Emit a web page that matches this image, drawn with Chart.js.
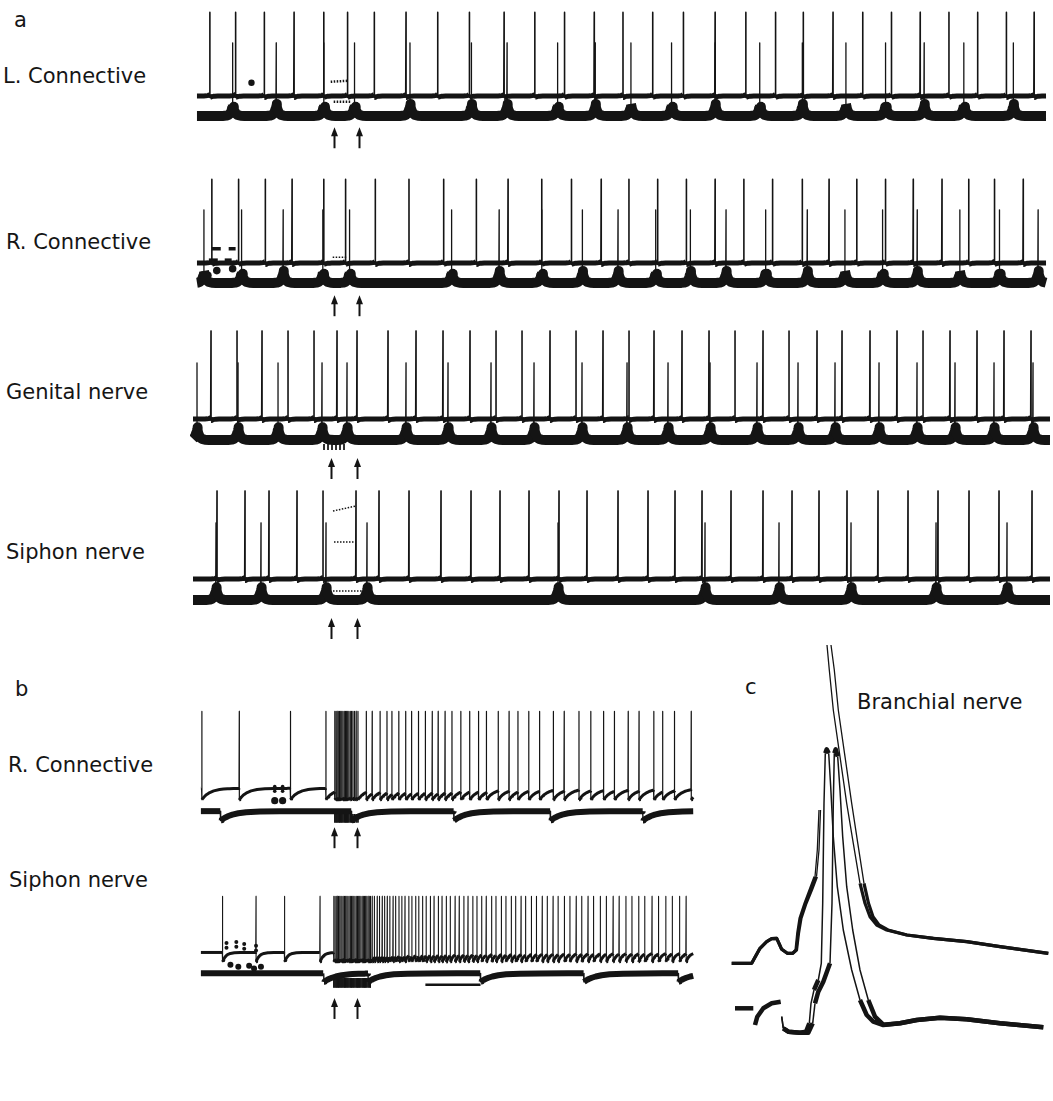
<!DOCTYPE html>
<html>
<head>
<meta charset="utf-8">
<title>Nerve recordings</title>
<script src="https://cdn.jsdelivr.net/npm/chart.js@4.4.1/dist/chart.umd.min.js"></script>
<style>
  body { margin: 0; background: #fff; }
  #fig { position: relative; width: 1053px; height: 1101px; overflow: hidden; font-family: "DejaVu Sans", sans-serif; color: #151515; }
  #fig canvas { position: absolute; }
  .lbl { position: absolute; font-size: 21px; line-height: 24px; white-space: pre; }
</style>
</head>
<body>
<div id="fig">
  <div class="lbl" style="left:14px;top:8px">a</div>
  <div class="lbl" style="left:3px;top:64px">L. Connective</div>
  <div class="lbl" style="left:6px;top:230px">R. Connective</div>
  <div class="lbl" style="left:6px;top:380px">Genital nerve</div>
  <div class="lbl" style="left:6px;top:540px">Siphon nerve</div>
  <div class="lbl" style="left:15px;top:677px">b</div>
  <div class="lbl" style="left:8px;top:753px">R. Connective</div>
  <div class="lbl" style="left:9px;top:868px">Siphon nerve</div>
  <div class="lbl" style="left:745px;top:675px">c</div>
  <div class="lbl" style="left:857px;top:690px">Branchial nerve</div>
</div>
<script>
// ---------- panel a : spike times (s) ----------
const stimA = [13.6, 16.2];

const lconTall  = [1.1, 3.7, 6.6, 9.6, 12.6, 15.0, 17.7, 20.9, 24.1, 27.3, 30.8, 33.9, 36.9, 39.9, 42.8, 45.8, 48.9, 52.1, 55.2, 58.2, 61.0, 64.0, 67.0, 69.9, 72.8, 75.7, 78.6, 81.5, 84.3];
const lconSmall = [3.4, 7.8, 12.6, 15.7, 21.3, 27.5, 31.1, 36.2, 40.0, 43.6, 47.7, 52.1, 56.6, 60.9, 65.3, 69.3, 73.2, 77.2, 82.2];

const rconTall  = [1.3, 4.0, 6.7, 9.4, 12.6, 14.8, 17.8, 21.2, 24.7, 28.0, 31.2, 34.6, 37.6, 40.6, 43.4, 46.3, 49.2, 52.1, 55.0, 57.9, 60.9, 63.6, 66.4, 69.3, 72.1, 75.0, 77.7, 80.3, 83.2];
const rconSmall = [0.5, 4.3, 8.5, 12.5, 15.2, 25.5, 30.3, 34.6, 38.7, 42.3, 46.1, 49.6, 53.2, 57.2, 61.4, 65.2, 69.0, 72.5, 76.8, 80.8, 84.7];

const genTall   = [1.6, 4.2, 6.7, 9.3, 11.9, 14.2, 16.2, 19.3, 22.1, 24.8, 27.5, 30.1, 32.7, 35.5, 38.1, 40.8, 43.4, 45.9, 48.7, 51.4, 54.0, 56.8, 59.4, 62.2, 64.7, 67.5, 70.2, 72.8, 75.5, 78.2, 80.9, 83.6];
const genSmall  = [0.2, 4.3, 8.3, 12.7, 15.2, 21.1, 25.3, 29.6, 33.9, 38.7, 43.2, 47.3, 51.5, 56.2, 60.3, 64.0, 68.4, 72.2, 76.0, 79.9, 83.8];

const siphTall  = [2.2, 5.0, 7.4, 10.2, 12.8, 16.1, 18.4, 21.4, 24.6, 27.6, 30.5, 33.4, 36.4, 39.2, 42.3, 45.3, 48.0, 50.7, 53.6, 56.8, 59.7, 62.4, 65.2, 68.3, 71.3, 74.3, 77.4, 80.4, 83.7];
const siphSmall = [2.1, 6.6, 13.1, 17.2, 36.3, 51.0, 58.4, 65.6, 74.1, 81.2];

// ---------- panel b ----------
const stimB = [13.5, 15.9];
const bRconUnit = [0.1, 3.9, 9.1, 12.7,
  13.6, 13.72, 13.83, 13.95, 14.08, 14.2, 14.31, 14.43, 14.56, 14.68, 14.8, 14.91, 15.03, 15.17, 15.3, 15.44, 15.6, 15.77, 15.95,
  16.8, 17.4, 18.2, 18.9, 19.4, 20.1, 20.8, 21.4, 22.1, 22.8, 23.5, 24.1, 24.8, 25.5, 26.4, 27.3, 28.2, 29.0, 30.2, 31.3,
  32.2, 33.3, 34.4, 35.8, 36.9, 38.4, 39.6, 40.9, 42.0, 43.4, 44.5, 46.0, 46.9, 48.1, 49.8];
const bRconSlow = [2.0, 15.3, 25.7, 35.5, 44.9];

const bSiphUnit = [2.2, 5.6, 8.5, 12.1,
  13.5, 13.62, 13.74, 13.85, 13.97, 14.1, 14.22, 14.33, 14.45, 14.58, 14.7, 14.82, 14.93, 15.05, 15.18, 15.3, 15.42, 15.53,
  15.65, 15.78, 15.9, 16.02, 16.13, 16.25, 16.38, 16.5, 16.62, 16.73, 16.85, 16.98, 17.1, 17.22,
  17.4, 17.62, 17.91, 18.14, 18.42, 18.66, 18.93, 19.19, 19.52, 19.78, 20.12, 20.41, 20.73, 21.12, 21.43, 21.82, 22.13, 22.52,
  22.88, 23.31, 23.68, 24.12, 24.49, 24.93, 25.33, 25.82, 26.24, 26.71, 27.13, 27.62, 28.04, 28.52, 28.98, 29.53, 29.97, 30.52,
  30.98, 31.53, 31.97, 32.52, 32.98, 33.57, 34.08, 34.67, 35.18, 35.77, 36.28, 36.92, 37.48, 38.12, 38.68, 39.32, 39.88, 40.57,
  41.18, 41.87, 42.48, 43.17, 43.78, 44.47, 45.08, 45.82, 46.48, 47.22, 47.88, 48.62, 49.28];
const bSiphSlow = [12.5, 17.0, 28.4, 38.9, 48.5];
const scaleBarB = [22.8, 28.4];

// ---------- panel c : two superimposed sweeps per trace, [ms, mV] ----------
// the fast rising phase of the upper sweeps is too faint to show, hence the gap
const cUpperA = [[31.7,126.7],[51.7,126.7],[55,132.7],[60,141.7],[66.7,148.3],[71.7,151.3],[76.7,151.7],[79,146.7],[81.7,140.7],
  [87.3,136.7],[92.7,136.7],[96,140],[97.7,156.7],[100,171.7],[105,186.7],[110,200],[115,213.3],[117.3,240],[119,280],[119,null],
  [127,445],[129.3,420],[133.3,380],[140,333.3],[146.7,286.7],[153.3,246.7],[160,206.7],[165,186.7],[170,173.3],
  [176.7,165],[186.7,160],[206.7,155],[233.3,151.7],[266.7,148.3],[300,143.3],[348.3,136.7]];
const cUpperB = [[31.7,126.7],[51.7,126.7],[55,132.7],[60,141.7],[66.7,148.3],[71.7,151.3],[76.7,151.7],[79,146.7],[81.7,140.7],
  [87.3,136.7],[92.7,136.7],[96.5,140],[98.5,156.7],[101,171.7],[106,186.7],[111.5,200],[116.5,213.3],[119,240],[120.5,280],[120.5,null],
  [131,445],[134.3,420],[138.3,380],[145,333.3],[151.7,286.7],[157.8,246.7],[164,206.7],[168.5,186.7],[173,173.3],
  [179,165],[188,160],[207,155],[233.3,151.7],[266.7,148.3],[300,143.3],[348.3,136.7]];
const cLowerA = [[35,81.7],[53.3,81.7],[53.3,null],
  [55,65],[57.3,73.3],[63.3,81.7],[71.7,86.7],[80.7,88.3],[80.7,null],
  [81.7,73.3],[83.3,61.7],[88.3,58.3],[100,57.3],[106,58.3],[109.3,66.7],[111,86.7],[114,100],[118.3,110],[121.3,126.7],
  [122.7,186.7],[124,286.7],[125.3,336.7],[126.7,340.7],[128.7,336.7],[130.7,303.3],[133.3,253.3],[137.3,203.3],[143.3,160],
  [151.7,120],[160,90],[166.7,75],[173.3,68.3],[183.3,65],[200,66.7],[216.7,70],[240,72.3],[266.7,70.7],[300,66.7],[343.3,62.7]];
const cLowerB = [[81.7,73.3],[83.3,61.7],[88.3,58.3],[100,57.3],[108.3,57.3],[112.7,66.7],[115,86.7],[118.3,98.3],[123.3,108.3],
  [130,126.7],[132,186.7],[133.3,286.7],[134.3,336.7],[135.7,340.7],[137.7,333.3],[140,300],[142.7,253.3],[146.7,203.3],
  [152.7,160],[160,120],[168.3,90],[175,73.3],[183.3,65.3],[200,66.7],[216.7,70],[240,72.3],[266.7,70.7],[300,66.7],[343.3,62.7]];

const INK = '#141414';

// draws the stimulus arrows under a row
Chart.register({
  id: 'stimArrows',
  afterDatasetsDraw(chart, args, opts) {
    if (!opts.times) return;
    const { ctx, scales: { x, y } } = chart;
    ctx.save();
    ctx.strokeStyle = INK; ctx.fillStyle = INK; ctx.lineWidth = 2;
    opts.times.forEach(t => {
      const px = Math.round(x.getPixelForValue(t)) + 0.5;
      const tip = y.getPixelForValue(opts.tip), tail = y.getPixelForValue(opts.tail);
      ctx.beginPath(); ctx.moveTo(px, tail); ctx.lineTo(px, tip + 6); ctx.stroke();
      ctx.beginPath(); ctx.moveTo(px, tip); ctx.lineTo(px - 3.5, tip + 9); ctx.lineTo(px + 3.5, tip + 9); ctx.closePath(); ctx.fill();
    });
    ctx.restore();
  }
});

// thin line on the fast (steep) parts, thick on the slow parts
const bySlope = (thick, thin, k = 2.7, c0 = 3) => c => {
  const dx = Math.abs(c.p1.x - c.p0.x), dy = Math.abs(c.p1.y - c.p0.y);
  return dy > k * dx + c0 ? thin : thick;
};

// one sweep: baseline, jump after each event decaying with tau, slow rise before the next event
function sweep(events, x0, x1, p) {
  const after = [0.06, 0.12, 0.22, 0.35, 0.5, 0.8, 1.2, 1.8, 2.6, 4, 6, 9, 14];
  const before = [0.03, 0.08, 0.15, 0.25, 0.4, 0.6, 1, 1.6];
  const ev = events.filter(t => t > x0 && t < x1).sort((a, b) => a - b);
  const level = (x, last, next) => {
    let v = p.base;
    if (last != null) v += p.ahp * Math.exp(-(x - last) / p.tau);
    if (next != null && p.pre) v += p.pre * Math.exp(-(next - x) / p.ptau);
    return v;
  };
  const pts = [];
  const bounds = [x0, ...ev, x1];
  for (let i = 0; i < bounds.length - 1; i++) {
    const a = bounds[i], b = bounds[i + 1];
    const last = i > 0 ? a : null;
    const next = i + 1 < bounds.length - 1 ? b : null;
    let xs = [];
    if (last == null) xs.push(a); else { xs.push(a + 0.005); after.forEach(d => xs.push(a + d)); }
    if (next == null) xs.push(b); else before.forEach(d => xs.push(b - d));
    xs = xs.filter(x => x >= a && x <= b).sort((u, v) => u - v);
    xs.forEach(x => pts.push({ x, y: level(x, last, next) }));
    if (next != null && p.top != null) pts.push({ x: b, y: p.top });
  }
  return pts;
}

const line = (data, thick, thin, k, c0) => ({
  data, borderColor: INK, borderWidth: thick, pointRadius: 0, tension: 0,
  borderJoinStyle: 'round', fill: false, spanGaps: false,
  segment: { borderWidth: bySlope(thick, thin, k, c0) }
});
const dashed = (data, w) => ({
  data, borderColor: INK, borderWidth: w, borderDash: [1.5, 1.5], pointRadius: 0, fill: false, spanGaps: false
});
const dots = (data, r) => ({
  data, showLine: false, pointRadius: r, pointBackgroundColor: INK, pointBorderWidth: 0, borderColor: INK
});
const ticks = (times, y0, y1) => {
  const out = [];
  times.forEach(t => out.push({ x: t, y: y0 }, { x: t, y: y1 }, { x: t, y: null }));
  return out;
};
const xy = arr => arr.map(([x, y]) => ({ x, y }));

function makeChart(box, datasets, xr, yr, arrows) {
  const cv = document.createElement('canvas');
  cv.width = box.w; cv.height = box.h;
  cv.style.left = box.l + 'px'; cv.style.top = box.t + 'px';
  document.getElementById('fig').appendChild(cv);
  return new Chart(cv, {
    type: 'line',
    data: { datasets },
    options: {
      responsive: false, animation: false, events: [],
      layout: { padding: 0 },
      plugins: { legend: { display: false }, tooltip: { enabled: false }, stimArrows: arrows || {} },
      scales: {
        x: { type: 'linear', display: false, min: xr[0], max: xr[1] },
        y: { type: 'linear', display: false, min: yr[0], max: yr[1] }
      }
    }
  });
}

// ---------- panel a ----------
const A_X = [-0.5, 85.8];
const upperA = ev => sweep(ev, -0.2, 85.5, { base: 60, top: 148, ahp: -1.5, tau: 0.25, pre: 2, ptau: 0.15 });
const lowerA = ev => sweep(ev, -0.2, 85.5, { base: 39, top: 116, ahp: 13, tau: 0.2, pre: 11, ptau: 0.18 });

const rowsA = [
  { t: -3, tall: lconTall, small: lconSmall, tip: 27, tail: 5,
    extra: [dots([{ x: 5.3, y: 74 }], 3.2),
            dashed([{ x: 13.3, y: 75 }, { x: 15.1, y: 76 }, { x: 15.1, y: null }, { x: 13.6, y: 54 }, { x: 15.3, y: 54 }], 2.5)] },
  { t: 164, tall: rconTall, small: rconSmall, tip: 26, tail: 4,
    extra: [line([{ x: 1.3, y: 75 }, { x: 2.2, y: 75 }, { x: 2.2, y: null }, { x: 3.0, y: 75 }, { x: 3.7, y: 75 }, { x: 3.7, y: null },
                  { x: 1.0, y: 63 }, { x: 1.9, y: 63 }, { x: 1.9, y: null }, { x: 2.6, y: 63 }, { x: 3.3, y: 63 }], 3.5, 3.5),
            dots([{ x: 1.8, y: 52 }, { x: 3.4, y: 54 }, { x: 0.9, y: 47 }], 3.8),
            dashed([{ x: 13.5, y: 66 }, { x: 15.0, y: 66 }], 1.5)] },
  { t: 319, tall: genTall, small: genSmall, tip: 21, tail: -1,
    extra: [line(ticks([12.9, 13.3, 13.7, 14.1, 14.5, 14.9], 35, 29), 1, 1)] },
  { t: 479, tall: siphTall, small: siphSmall, tip: 21, tail: -1,
    extra: [dashed([{ x: 13.8, y: 128 }, { x: 16.1, y: 133 }, { x: 16.1, y: null }, { x: 13.9, y: 97 }, { x: 16.0, y: 97 },
                    { x: 16.0, y: null }, { x: 13.8, y: 48 }, { x: 17.0, y: 48 }], 1.5)] }
];
rowsA.forEach(r => {
  makeChart({ l: 190, t: r.t, w: 863, h: 160 },
    [line(lowerA(r.small), 10, 1.3), line(upperA(r.tall), 5, 1.6), ...r.extra],
    A_X, [0, 160], { times: stimA, tip: r.tip, tail: r.tail });
});

// ---------- panel b ----------
const B_X = [-0.7, 51.3];
makeChart({ l: 190, t: 696, w: 520, h: 160 }, [
  line(sweep(bRconSlow, 0, 50, { base: 43, top: null, ahp: -10, tau: 1.2 }), 6, 1.4),
  line(sweep(bRconUnit, 0, 50, { base: 67, top: 148, ahp: -12, tau: 0.8 }), 3, 1.2),
  line(ticks(bRconUnit.filter(t => t > 13.5 && t < 16.1), 40, 31), 1, 1),
  dots([{ x: 7.5, y: 69 }, { x: 7.5, y: 64 }, { x: 8.3, y: 69 }, { x: 8.3, y: 64 }], 1.8),
  dots([{ x: 7.5, y: 54 }, { x: 8.3, y: 54 }], 3.6)
], B_X, [0, 160], { times: stimB, tip: 26, tail: 4 });

makeChart({ l: 190, t: 881, w: 520, h: 160 }, [
  line(sweep(bSiphSlow, 0, 50, { base: 67, top: null, ahp: -9, tau: 1.2 }), 6, 1.4),
  line(sweep(bSiphUnit, 0, 50, { base: 89, top: 148, ahp: -10, tau: 0.35 }), 3, 1.1),
  line(ticks(bSiphUnit.filter(t => t > 13.4 && t < 17.3), 62, 52), 1, 1),
  dots([{ x: 2.6, y: 99 }, { x: 2.6, y: 94 }, { x: 3.6, y: 100 }, { x: 3.6, y: 95 }, { x: 4.4, y: 98 }, { x: 4.4, y: 93 },
        { x: 5.6, y: 96 }, { x: 5.6, y: 91 }], 2),
  dots([{ x: 3.0, y: 76 }, { x: 3.8, y: 74 }, { x: 4.9, y: 75 }, { x: 5.4, y: 72 }, { x: 6.1, y: 74 }], 3),
  line([{ x: scaleBarB[0], y: 55 }, { x: scaleBarB[1], y: 55 }], 2.5, 2.5)
], B_X, [0, 160], { times: stimB, tip: 41, tail: 19 });

// ---------- panel c ----------
makeChart({ l: 700, t: 640, w: 353, h: 461 }, [
  line(xy(cLowerA), 4.5, 1.5),
  line(xy(cLowerB), 4.5, 1.5),
  line(xy(cUpperA), 3.2, 1.3, 3.2, 12),
  line(xy(cUpperB), 3.2, 1.3, 3.2, 12)
], [0, 353], [-11, 450]);
</script>
</body>
</html>
